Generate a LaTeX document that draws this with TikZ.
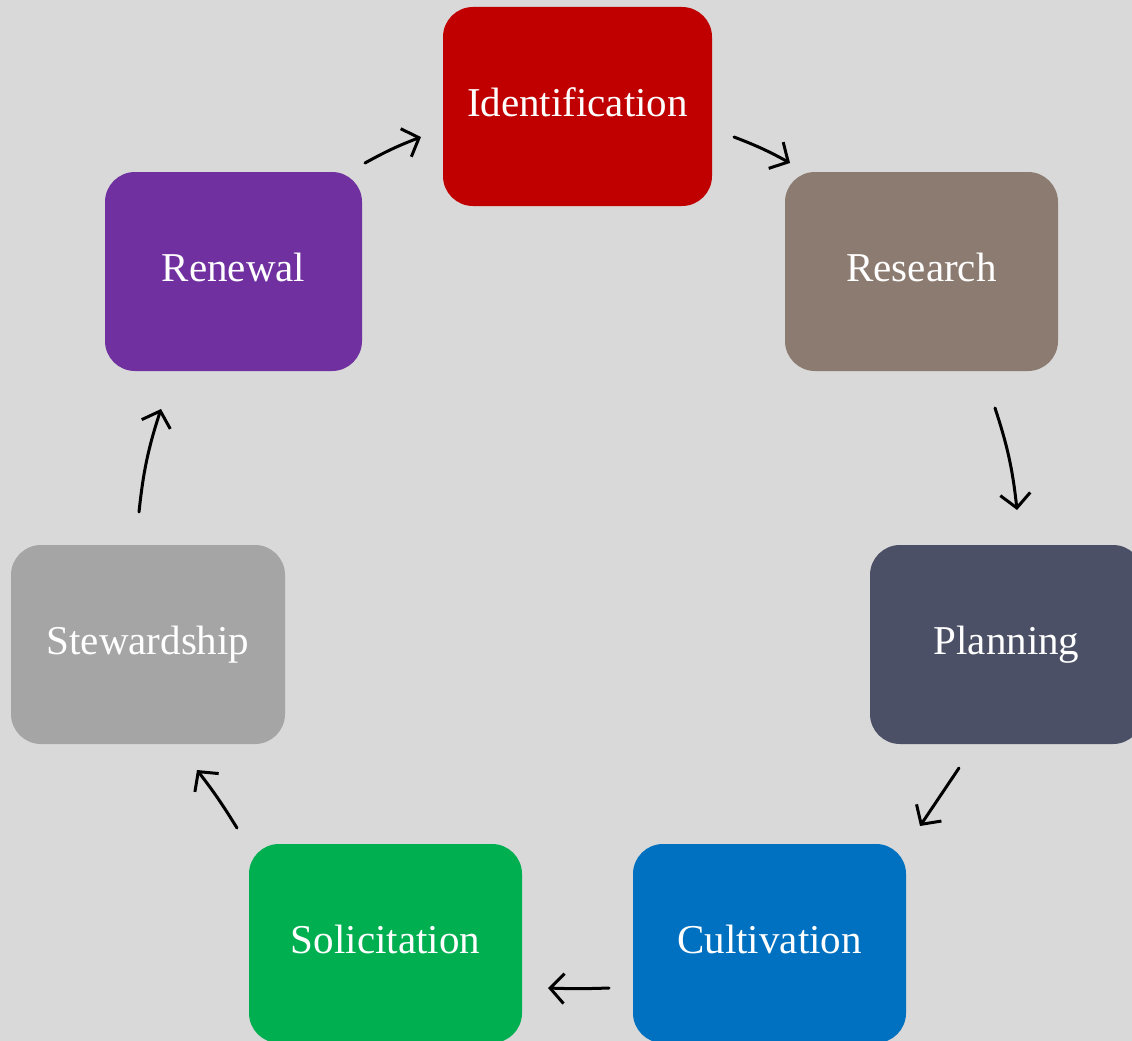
\documentclass[tikz,border=0pt]{standalone}
\usepackage{fontspec}
\setmainfont{Liberation Serif}
\usetikzlibrary{arrows.meta}
\definecolor{bg}{HTML}{D9D9D9}
\definecolor{cIdent}{HTML}{C00000}
\definecolor{cResearch}{HTML}{8C7B70}
\definecolor{cPlan}{HTML}{4B5066}
\definecolor{cCult}{HTML}{0070C0}
\definecolor{cSolic}{HTML}{00B050}
\definecolor{cStew}{HTML}{A5A5A5}
\definecolor{cRenew}{HTML}{7030A0}
\tikzset{
  stagebox/.style={rounded corners=30pt, minimum width=273pt, minimum height=199pt,
    inner sep=0pt, text=white, text height=30pt, text depth=10pt,
    font=\fontsize{41}{48}\selectfont},
  flow/.style={line width=3pt, line cap=round, -{Straight Barb[length=14pt,width=30pt,line width=3pt]}}
}
\begin{document}
\begin{tikzpicture}[x=1pt,y=-1pt]
\clip (0,0) rectangle (1132,1041);
\fill[bg] (0,0) rectangle (1132,1041);
\node[stagebox, fill=cIdent, minimum width=269pt] (ident) at (577.5,106.5) {Identification};
\node[stagebox, fill=cResearch] (research) at (921.5,271.5) {Research};
\node[stagebox, fill=cPlan] (plan) at (1006.5,644.5) {Planning};
\node[stagebox, fill=cCult] (cult) at (769.5,943.5) {Cultivation};
\node[stagebox, fill=cSolic] (solic) at (385.5,943.5) {Solicitation};
\node[stagebox, fill=cStew, minimum width=274pt] (stew) at (148,644.5) {Stewardship};
\node[stagebox, fill=cRenew, minimum width=257pt] (renew) at (233.5,271.5) {Renewal};
\coordinate (a1s) at (365,163); \coordinate (a1e) at (421,137);
\coordinate (a2s) at (734,137); \coordinate (a2e) at (790,163);
\coordinate (a3s) at (995,408); \coordinate (a3e) at (1017,510);
\coordinate (a4s) at (959,768); \coordinate (a4e) at (920,826);
\coordinate (a5s) at (609,988); \coordinate (a5e) at (548,988);
\coordinate (a6s) at (237,828); \coordinate (a6e) at (197,770);
\coordinate (a7s) at (139,512); \coordinate (a7e) at (161,409);
\draw[flow] (a1s) to[bend left=4] (a1e);
\draw[flow] (a2s) to[bend left=4] (a2e);
\draw[flow] (a3s) to[bend left=6] (a3e);
\draw[flow] (a4s) to (a4e);
\draw[flow] (a5s) to[bend left=2] (a5e);
\draw[flow] (a6s) to[bend right=3] (a6e);
\draw[flow] (a7s) to[bend left=6] (a7e);
\end{tikzpicture}
\end{document}
